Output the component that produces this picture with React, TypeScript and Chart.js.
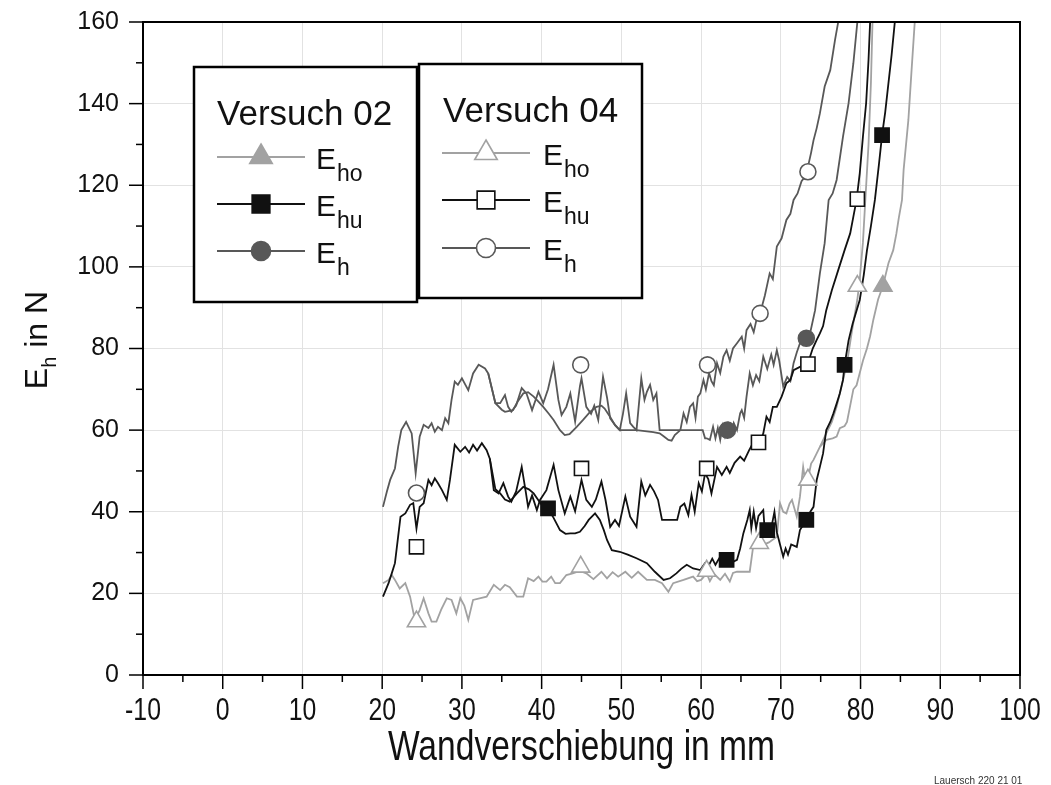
import React, { useEffect, useRef } from 'react';
import { Chart, registerables } from 'chart.js';

Chart.register(...registerables);

// ---- axis ticks ----
const xTickValues = [-10, 0, 10, 20, 30, 40, 50, 60, 70, 80, 90, 100];
const xTickLabels = ['-10', '0', '10', '20', '30', '40', '50', '60', '70', '80', '90', '100'];
const xMinorValues = [-5, 5, 15, 25, 35, 45, 55, 65, 75, 85, 95];
const yTickValues = [0, 20, 40, 60, 80, 100, 120, 140, 160];
const yMinorValues = [10, 30, 50, 70, 90, 110, 130, 150];

// ---- Versuch 04 (spiky curves, open markers) ----
const v04Eh: [number, number][] = [
  [20.1, 41.2], [20.6, 45], [21.0, 47.8], [21.6, 50.6], [22.0, 55.9], [22.4, 60], [23.0, 62], [23.7, 59.2],
  [24.2, 49.4], [24.7, 58.4], [25.2, 61.3], [25.8, 60.5], [26.2, 61.7], [26.6, 59.6], [27.0, 60.8], [27.5, 60],
  [27.9, 62.9], [28.3, 61.7], [28.7, 67.4], [29.1, 71.9], [29.5, 71.1], [30.0, 72.7], [30.8, 69.8], [31.4, 73.9],
  [32.1, 76], [32.9, 75.1], [33.3, 73.9], [34.2, 66.6], [34.8, 66.6], [35.4, 68.6], [35.8, 65.7], [36.2, 64.5],
  [36.8, 66], [37.5, 70.3], [38.1, 69], [38.8, 64.9], [39.6, 69.4], [40.2, 66.6], [40.8, 70], [41.5, 76],
  [42.1, 67.4], [42.5, 63.7], [43.1, 65.7], [43.6, 69], [44.2, 62.1], [44.8, 70.7], [45.0, 72.7], [45.6, 65.7],
  [46.2, 64], [46.6, 66], [47.1, 62.5], [47.7, 73.1], [48.2, 68], [48.6, 62.9], [49.2, 61.3], [49.8, 60],
  [50.2, 64], [50.6, 69], [51.1, 61.7], [51.5, 60.8], [51.9, 60], [52.5, 72.7], [52.9, 67.4], [53.2, 69.4],
  [53.6, 71.1], [54.0, 67.4], [54.4, 69], [54.8, 60], [57.4, 60], [57.8, 64.1], [58.2, 62], [58.6, 65.7],
  [59.0, 66.6], [59.3, 63], [59.6, 68.2], [59.9, 69], [60.3, 72.3], [60.6, 70], [61.0, 74], [61.3, 72],
  [61.6, 71], [62.0, 76.4], [62.4, 74], [62.8, 78], [63.2, 79.6], [63.6, 77], [64.0, 80], [64.5, 81.3],
  [65.1, 82.9], [65.4, 80], [65.7, 84.5], [66.2, 86], [66.6, 84], [67.0, 87.5], [67.4, 88.6], [68.0, 93],
  [68.6, 98.4], [69.0, 97], [69.5, 105], [70.1, 107], [70.7, 111.5], [71.2, 113], [71.6, 116.4], [72.1, 118],
  [72.6, 121], [73.0, 122], [73.4, 124.5], [73.8, 128], [74.1, 131], [74.5, 134], [74.9, 137.6], [75.5, 144.2],
  [76.2, 148.2], [76.8, 155.6], [77.2, 160], [77.5, 166],
];
const v04Ehu: [number, number][] = [
  [20.1, 19.2], [20.8, 22.5], [21.2, 24.9], [21.6, 27.4], [22.0, 33.9], [22.3, 38.8], [22.9, 39.6], [23.5, 41.7],
  [23.9, 42.1], [24.3, 35.9], [24.7, 41.2], [25.2, 42.1], [25.8, 47.8], [26.2, 46.5], [26.6, 48.2], [27.0, 47],
  [27.5, 45.3], [28.1, 42.9], [28.5, 47.8], [29.1, 56.4], [29.8, 54.7], [30.4, 55.9], [30.9, 54.5], [31.4, 56.4],
  [31.9, 55], [32.5, 56.8], [33.1, 55.1], [33.5, 53], [34.0, 45.3], [34.6, 44.5], [35.2, 47], [35.8, 43.7],
  [36.2, 42.5], [36.8, 45], [37.5, 51], [38.0, 45], [38.3, 41.2], [38.8, 44], [39.4, 40.4], [39.8, 42.9],
  [40.6, 45.3], [41.5, 51.5], [42.1, 45.3], [42.9, 39.6], [43.6, 43.7], [44.2, 40.1], [45.0, 47.8], [45.6, 42.9],
  [46.3, 41.2], [46.8, 43], [47.5, 47.4], [48.0, 43], [48.6, 36.3], [49.2, 38], [49.7, 36.5], [50.5, 43.7],
  [51.1, 38.8], [51.9, 36.3], [52.5, 47.4], [53.0, 44], [53.6, 46.6], [54.1, 45], [54.6, 42.9], [55.1, 38],
  [57.0, 38], [57.4, 41.2], [57.9, 42], [58.4, 39.2], [58.8, 44.1], [59.2, 40], [59.7, 47], [60.1, 45],
  [60.5, 49.4], [60.9, 48], [61.3, 44.5], [62.0, 51], [62.6, 49], [63.2, 51], [63.6, 49.5], [64.2, 52],
  [64.9, 53.5], [65.4, 52.5], [66.0, 55], [66.5, 56.8], [67.0, 56], [67.4, 57.2], [67.8, 59.2], [68.2, 63.3],
  [68.6, 62], [69.0, 65.7], [69.5, 65.7], [70.1, 68.2], [70.7, 71.5], [71.2, 72.3], [71.6, 74.7], [72.4, 75.5],
  [73.4, 76.4], [74.0, 80], [74.5, 82.1], [74.9, 83.7], [75.3, 85.5], [75.7, 89.4], [76.4, 94.3], [77.2, 99.2],
  [78.0, 104.1], [78.7, 108.2], [79.1, 112.3], [79.5, 116.4], [79.9, 122.9], [80.3, 131.9], [80.7, 140.1],
  [81.0, 150.7], [81.2, 160], [81.3, 166],
];
const v04Eho: [number, number][] = [
  [20.1, 22.5], [20.8, 23.3], [21.2, 24.5], [21.6, 23.3], [22.2, 21.2], [22.9, 22.5], [23.5, 19.2], [24.1, 13.5],
  [24.7, 15.9], [25.2, 18.8], [25.8, 15.1], [26.2, 13.1], [26.8, 13.1], [27.4, 16], [28.1, 18.8], [28.7, 18.4],
  [29.3, 15.1], [29.8, 18.8], [30.3, 17], [30.8, 13.5], [31.4, 18.4], [33.1, 19.2], [34.0, 22.1], [34.8, 20.8],
  [35.4, 22.1], [36.0, 21.5], [36.9, 19.2], [37.7, 19.2], [38.3, 23.7], [39.0, 23], [39.6, 24.1], [40.1, 22.9],
  [40.6, 22.9], [41.2, 24.1], [41.7, 22.5], [42.3, 22.5], [43.1, 24.5], [43.9, 24.9], [44.8, 25.5], [45.6, 24.9],
  [46.5, 23.5], [47.5, 25.3], [48.2, 23.7], [48.9, 25.2], [49.6, 24.1], [50.5, 25.3], [51.3, 23.8], [52.1, 25.3],
  [53.2, 23.3], [54.2, 23.3], [55.1, 22.5], [55.9, 20.4], [56.5, 22.5], [57.8, 23.3], [59.0, 24.1], [59.5, 23],
  [60.0, 23.3], [60.7, 24.9], [61.1, 23], [61.6, 24.8], [62.4, 23.3], [63.0, 24.8], [63.6, 22.9], [64.0, 25],
  [64.5, 25.3], [66.1, 25.3], [66.5, 31], [67.4, 31.5], [68.5, 32.5], [69.5, 33.9], [69.9, 42.1], [70.3, 40],
  [70.7, 39.6], [71.1, 42], [71.4, 42.9], [72.0, 38.8], [72.4, 43.7], [72.8, 51], [73.1, 47], [73.4, 48],
  [73.8, 51.8], [74.1, 52.7], [74.9, 55.9], [75.7, 59.2], [76.4, 62], [77.0, 65.7], [77.4, 69], [77.8, 72.3],
  [78.3, 76.4], [78.9, 84], [79.6, 92], [79.9, 97], [80.3, 106], [80.6, 116.4], [81.0, 130], [81.3, 145],
  [81.5, 160], [81.6, 166],
];

// ---- Versuch 02 (smoother curves, filled markers) ----
const v02Eh: [number, number][] = [
  [33.3, 73.9], [34.2, 66.6], [35.0, 65], [35.4, 64.5], [36.4, 64.9], [37.0, 67], [37.7, 69], [38.3, 69.3],
  [39.0, 68.2], [39.6, 67], [40.2, 65.7], [40.9, 64], [41.5, 62.5], [42.3, 60], [42.9, 58.8], [43.5, 59],
  [44.4, 60.8], [45.2, 62.5], [46.1, 64.5], [46.9, 65.7], [47.5, 66], [47.9, 65.3], [48.6, 63.2], [49.2, 61.2],
  [49.8, 60], [51.9, 60], [54.0, 59.5], [54.8, 59.2], [55.3, 58.5], [55.9, 57.6], [56.3, 57.4], [56.7, 58.8],
  [57.4, 60], [60.2, 60], [60.5, 58], [60.7, 58], [61.1, 57.6], [61.5, 60.8], [61.8, 58], [62.1, 60.5],
  [62.4, 57.6], [62.7, 61], [63.0, 58.5], [63.4, 61.5], [63.8, 59], [64.1, 61.7], [64.5, 60], [64.9, 64.1],
  [65.1, 64.9], [65.4, 63], [65.7, 68.2], [66.1, 73.9], [66.5, 71], [66.9, 73.5], [67.3, 72], [67.8, 78],
  [68.3, 75], [68.8, 78.5], [69.1, 76], [69.5, 79.6], [69.8, 77], [70.3, 70.7], [70.8, 73], [71.2, 72],
  [71.6, 76.4], [72.0, 79], [72.4, 81.3], [73.2, 82.5], [73.7, 84], [74.3, 89.4], [74.9, 98.4], [75.5, 105.8],
  [76.0, 116.4], [76.5, 118], [77.0, 121.3], [77.8, 131.9], [78.5, 140.1], [79.1, 149.9], [79.6, 160], [79.7, 166],
];
const v02Ehu: [number, number][] = [
  [33.5, 53], [34.2, 45.5], [34.8, 44.5], [35.4, 43], [36.0, 42.5], [36.9, 44.5], [37.7, 46.1], [38.4, 45.5],
  [39.0, 44.5], [39.7, 42.5], [40.2, 41.2], [40.8, 40.8], [41.5, 38.5], [42.3, 35.5], [43.0, 34.6], [43.6, 34.7],
  [44.2, 34.7], [44.8, 35.1], [45.4, 36.5], [45.9, 38], [46.7, 39.6], [47.3, 38], [47.8, 35.5], [48.2, 33.1],
  [48.8, 30.6], [49.8, 30.2], [50.8, 29.5], [51.9, 28.6], [53.2, 27.4], [54.2, 25.3], [55.3, 23.3], [56.1, 23.7],
  [56.9, 24.9], [57.5, 26], [58.2, 27], [59.0, 26.1], [59.9, 25.7], [60.5, 27.4], [61.0, 27], [61.4, 28.5],
  [61.8, 27], [62.4, 29], [63.2, 28.2], [63.8, 27.5], [64.5, 28.2], [64.9, 31], [65.3, 34.7], [65.8, 38],
  [66.1, 40.4], [66.3, 36], [66.6, 40], [66.9, 36], [67.2, 39], [67.8, 40.4], [68.0, 35], [68.4, 34],
  [68.8, 36], [69.2, 40], [69.5, 35], [69.9, 32], [70.3, 29], [70.6, 31], [70.9, 29.5], [71.3, 32],
  [72.0, 31.4], [72.4, 35.5], [73.2, 38], [73.7, 40], [74.1, 41.2], [74.5, 47.8], [74.9, 51], [75.3, 54.3],
  [75.7, 60], [76.2, 62], [76.6, 64.1], [77.0, 66.5], [77.4, 69], [77.8, 72.3], [78.0, 76], [78.5, 82],
  [79.0, 86], [79.9, 91.9], [80.4, 98], [80.8, 104], [81.3, 110], [81.8, 116.4], [82.3, 125], [82.7, 132.3],
  [83.1, 138], [83.5, 145], [83.9, 152], [84.3, 160], [84.4, 166],
];
const v02Eho: [number, number][] = [
  [74.9, 55.9], [75.7, 57.6], [76.5, 58], [77.0, 58.4], [77.4, 60.5], [78.0, 61], [78.3, 62], [78.7, 66],
  [79.1, 70], [79.5, 71], [79.9, 74], [80.3, 77], [80.8, 80], [81.2, 83], [81.6, 87], [82.2, 92],
  [82.8, 95.3], [83.5, 100.9], [84.1, 104.1], [84.5, 108.2], [84.8, 112], [85.2, 116.4], [85.4, 123.7],
  [86.0, 136], [86.4, 148.2], [86.8, 160], [86.9, 166],
];

// ---- marker positions ----
const v04EhoMarks: [number, number][] = [[24.3, 13.1], [44.9, 26.5], [60.7, 25.5], [67.3, 32.3], [73.4, 47.8], [79.6, 95.3]];
const v04EhuMarks: [number, number][] = [[24.3, 31.4], [45.0, 50.6], [60.7, 50.6], [67.2, 57], [73.4, 76.2], [79.6, 116.6]];
const v04EhMarks: [number, number][] = [[24.3, 44.6], [44.9, 76], [60.8, 76], [67.4, 88.6], [73.4, 123.3]];
const v02EhoMarks: [number, number][] = [[82.8, 95.3]];
const v02EhuMarks: [number, number][] = [[40.8, 40.8], [63.2, 28.2], [68.3, 35.5], [73.2, 38], [78.0, 76], [82.7, 132.3]];
const v02EhMarks: [number, number][] = [[63.3, 60], [73.2, 82.5]];

const GREY_L = '#a2a2a2';
const GREY_D = '#585858';
const BLACK = '#111111';
const FONT = "'Liberation Sans', Arial, Helvetica, sans-serif";

const toXY = (arr: [number, number][]) => arr.map(([x, y]) => ({ x, y }));

function drawMarker(ctx: CanvasRenderingContext2D, style: string, x: number, y: number, r: number, fill: string, stroke: string) {
  ctx.beginPath();
  if (style === 'triangle') {
    ctx.moveTo(x, y - r);
    ctx.lineTo(x + r * 0.866, y + r * 0.5);
    ctx.lineTo(x - r * 0.866, y + r * 0.5);
    ctx.closePath();
  } else if (style === 'rect') {
    const s = r * Math.SQRT1_2;
    ctx.rect(x - s, y - s, 2 * s, 2 * s);
  } else {
    ctx.arc(x, y, r, 0, Math.PI * 2);
  }
  ctx.fillStyle = fill;
  ctx.fill();
  ctx.lineWidth = 1.6;
  ctx.strokeStyle = stroke;
  ctx.stroke();
}

const legendGroups = [
  {
    title: 'Versuch 02', box: [194, 67, 417, 302], titleX: 217, titleY: 125, lineX: [217, 305], markX: 261, textX: 316, rows: [157, 204, 251],
    items: [
      { sub: 'ho', color: GREY_L, style: 'triangle', fill: GREY_L, r: 13 },
      { sub: 'hu', color: BLACK, style: 'rect', fill: BLACK, r: 12.5 },
      { sub: 'h', color: GREY_D, style: 'circle', fill: GREY_D, r: 9.5 },
    ],
  },
  {
    title: 'Versuch 04', box: [419, 64, 642, 298], titleX: 443, titleY: 122, lineX: [442, 530], markX: 486, textX: 543, rows: [153, 200, 248],
    items: [
      { sub: 'ho', color: GREY_L, style: 'triangle', fill: '#ffffff', r: 13 },
      { sub: 'hu', color: BLACK, style: 'rect', fill: '#ffffff', r: 12.5 },
      { sub: 'h', color: GREY_D, style: 'circle', fill: '#ffffff', r: 9.5 },
    ],
  },
];

const decorPlugin = {
  id: 'decor',
  afterDraw(chart: any) {
    const { ctx, chartArea: ca, scales } = chart;
    const xs = scales.x;
    const ys = scales.y;
    ctx.save();
    // frame top / right
    ctx.strokeStyle = '#000';
    ctx.lineWidth = 2;
    ctx.beginPath();
    ctx.moveTo(ca.left, ca.top);
    ctx.lineTo(ca.right, ca.top);
    ctx.lineTo(ca.right, ca.bottom);
    ctx.stroke();

    // ticks
    ctx.lineWidth = 1.5;
    ctx.strokeStyle = '#000';
    const tick = (x1: number, y1: number, x2: number, y2: number) => {
      ctx.beginPath(); ctx.moveTo(x1, y1); ctx.lineTo(x2, y2); ctx.stroke();
    };
    xTickValues.forEach((v) => { const p = xs.getPixelForValue(v); tick(p, ca.bottom, p, ca.bottom + 14); });
    xMinorValues.forEach((v) => { const p = xs.getPixelForValue(v); tick(p, ca.bottom, p, ca.bottom + 7); });
    yTickValues.forEach((v) => { const p = ys.getPixelForValue(v); tick(ca.left - 14, p, ca.left, p); });
    yMinorValues.forEach((v) => { const p = ys.getPixelForValue(v); tick(ca.left - 7, p, ca.left, p); });

    // x tick labels (narrow)
    ctx.fillStyle = '#111';
    ctx.textAlign = 'center';
    ctx.textBaseline = 'alphabetic';
    ctx.font = `31px ${FONT}`;
    xTickValues.forEach((v, i) => {
      const p = xs.getPixelForValue(v);
      ctx.save();
      ctx.translate(p, 720);
      ctx.scale(0.8, 1);
      ctx.fillText(xTickLabels[i], 0, 0);
      ctx.restore();
    });

    // x axis title
    ctx.save();
    ctx.translate((ca.left + ca.right) / 2, 760);
    ctx.scale(0.8, 1);
    ctx.font = `42px ${FONT}`;
    ctx.fillText('Wandverschiebung in mm', 0, 0);
    ctx.restore();

    // y axis title: E_h in N
    ctx.save();
    ctx.translate(47, 340);
    ctx.rotate(-Math.PI / 2);
    ctx.textAlign = 'left';
    const fMain = `32px ${FONT}`;
    const fSub = `20px ${FONT}`;
    ctx.font = fMain;
    const wE = ctx.measureText('E').width;
    const wRest = ctx.measureText(' in N').width;
    ctx.font = fSub;
    const wH = ctx.measureText('h').width;
    const total = wE + wH + wRest;
    let cx = -total / 2;
    ctx.font = fMain;
    ctx.fillText('E', cx, 0);
    cx += wE;
    ctx.font = fSub;
    ctx.fillText('h', cx, 9);
    cx += wH;
    ctx.font = fMain;
    ctx.fillText(' in N', cx, 0);
    ctx.restore();

    // legend boxes
    legendGroups.forEach((g) => {
      const [x1, y1, x2, y2] = g.box;
      ctx.fillStyle = '#ffffff';
      ctx.fillRect(x1, y1, x2 - x1, y2 - y1);
      ctx.strokeStyle = '#000';
      ctx.lineWidth = 2.5;
      ctx.strokeRect(x1, y1, x2 - x1, y2 - y1);
      ctx.fillStyle = '#111';
      ctx.textAlign = 'left';
      ctx.font = `35px ${FONT}`;
      ctx.fillText(g.title, g.titleX, g.titleY);
      g.items.forEach((it, k) => {
        const ry = g.rows[k];
        ctx.strokeStyle = it.color;
        ctx.lineWidth = 2;
        ctx.beginPath();
        ctx.moveTo(g.lineX[0], ry);
        ctx.lineTo(g.lineX[1], ry);
        ctx.stroke();
        drawMarker(ctx, it.style, g.markX, ry, it.r, it.fill, it.color);
        ctx.fillStyle = '#111';
        ctx.font = `30px ${FONT}`;
        ctx.fillText('E', g.textX, ry + 12);
        const w = ctx.measureText('E').width;
        ctx.font = `23px ${FONT}`;
        ctx.fillText(it.sub, g.textX + w + 1, ry + 24);
      });
    });

    // small file note bottom right
    ctx.fillStyle = '#333';
    ctx.font = `10px ${FONT}`;
    ctx.textAlign = 'left';
    ctx.fillText('Lauersch 220 21 01', 934, 784);
    ctx.restore();
  },
};

export default function App() {
  const ref = useRef<HTMLCanvasElement | null>(null);
  useEffect(() => {
    document.body.style.margin = '0';
    const canvas = ref.current;
    if (!canvas) return;
    const lineDs = (label: string, data: [number, number][], color: string, w = 1.8) => ({
      label,
      data: toXY(data),
      borderColor: color,
      borderWidth: w,
      pointRadius: 0,
      tension: 0,
      fill: false,
      showLine: true,
    });
    const markDs = (label: string, data: [number, number][], style: string, r: number, color: string, fill: string) => ({
      label,
      data: toXY(data),
      showLine: false,
      pointStyle: style,
      pointRadius: r,
      pointBorderWidth: 1.6,
      pointBorderColor: color,
      pointBackgroundColor: fill,
      borderColor: color,
      backgroundColor: fill,
    });
    const chart = new Chart(canvas, {
      type: 'line',
      data: {
        datasets: [
          markDs('V02 Ehu marks', v02EhuMarks, 'rect', 10, BLACK, BLACK),
          markDs('V02 Eh marks', v02EhMarks, 'circle', 8, GREY_D, GREY_D),
          markDs('V02 Eho marks', v02EhoMarks, 'triangle', 10.5, GREY_L, GREY_L),
          markDs('V04 Ehu marks', v04EhuMarks, 'rect', 10, BLACK, '#ffffff'),
          markDs('V04 Eh marks', v04EhMarks, 'circle', 8, GREY_D, '#ffffff'),
          markDs('V04 Eho marks', v04EhoMarks, 'triangle', 10.5, GREY_L, '#ffffff'),
          lineDs('V02 Ehu', v02Ehu, BLACK),
          lineDs('V04 Ehu', v04Ehu, BLACK),
          lineDs('V02 Eho', v02Eho, GREY_L),
          lineDs('V04 Eho', v04Eho, GREY_L),
          lineDs('V02 Eh', v02Eh, GREY_D),
          lineDs('V04 Eh', v04Eh, GREY_D),
        ] as any,
      },
      options: {
        responsive: false,
        animation: false,
        layout: { padding: { top: 22, right: 31, left: 0, bottom: 0 } },
        plugins: { legend: { display: false }, tooltip: { enabled: false } },
        scales: {
          x: {
            type: 'linear',
            min: -10,
            max: 100,
            afterFit: (s: any) => { s.height = 110; s.paddingLeft = 0; s.paddingRight = 0; },
            ticks: { display: false, stepSize: 10 },
            grid: { color: '#e2e2e2', lineWidth: 1, drawTicks: false },
            border: { color: '#000', width: 2 },
          },
          y: {
            type: 'linear',
            min: 0,
            max: 160,
            afterFit: (s: any) => { s.width = 143; s.paddingTop = 0; s.paddingBottom = 0; },
            ticks: { stepSize: 20, padding: 24, color: '#111', font: { family: FONT, size: 25 } },
            grid: { color: '#e2e2e2', lineWidth: 1, drawTicks: false },
            border: { color: '#000', width: 2 },
          },
        },
      } as any,
      plugins: [decorPlugin],
    });
    return () => chart.destroy();
  }, []);
  return <canvas ref={ref} width={1051} height={785} style={{ display: 'block' }} />;
}
